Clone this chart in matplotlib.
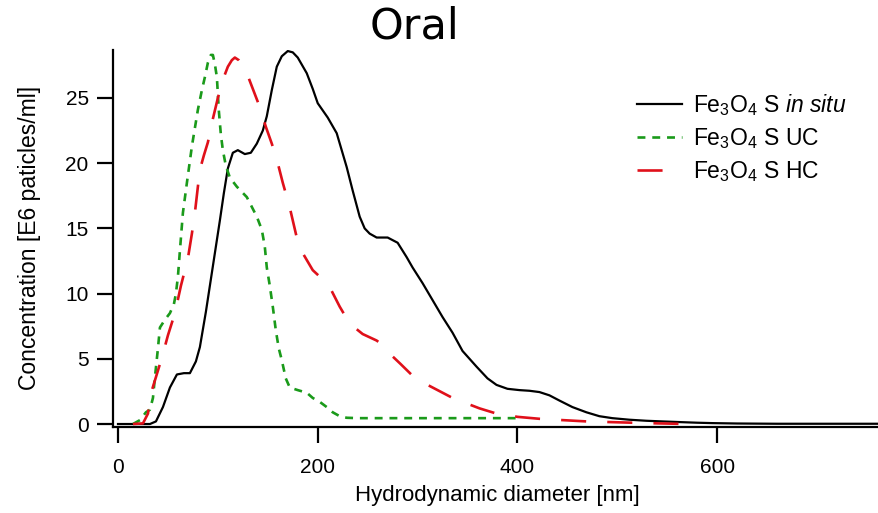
import matplotlib
matplotlib.use("Agg")
import matplotlib.pyplot as plt

plt.rcParams['font.family'] = ['Liberation Sans', 'DejaVu Sans']
plt.rcParams['mathtext.fontset'] = 'custom'
plt.rcParams['mathtext.rm'] = 'Liberation Sans'
plt.rcParams['mathtext.it'] = 'Liberation Sans:italic'

# In situ (black)
insitu_d = [0, 32, 38, 45, 52, 59, 66, 72, 78, 82, 88, 92, 96, 102, 106, 110, 115, 120, 127, 133, 139,
            145, 149, 154, 159, 164, 170, 175, 180, 189, 195, 200, 210, 219, 229, 235, 242, 247, 252, 259,
            270, 280, 289, 295, 305, 315, 325, 335, 345, 359, 370, 379, 390, 402, 412, 422, 432,
            442, 455, 469, 482, 495, 512, 529, 545, 562, 580, 595, 620, 660, 760]
insitu_c = [0, 0, 0.2, 1.3, 2.8, 3.8, 3.9, 3.9, 4.8, 5.9, 8.6, 10.6, 12.6, 15.6, 17.7, 19.6, 20.8, 21.0, 20.7, 20.8, 21.5,
            22.5, 23.6, 25.6, 27.4, 28.2, 28.6, 28.5, 28.1, 26.9, 25.7, 24.6, 23.5, 22.3, 19.7, 17.9, 15.9, 15.0, 14.6, 14.3,
            14.3, 13.9, 12.8, 12.0, 10.8, 9.5, 8.2, 7.0, 5.6, 4.4, 3.5, 3.0, 2.7, 2.6, 2.55, 2.45, 2.2,
            1.8, 1.3, 0.9, 0.6, 0.45, 0.33, 0.25, 0.2, 0.15, 0.1, 0.07, 0.04, 0.02, 0.02]

# UC (green)
uc_d = [15, 22, 28, 32, 35, 37, 40, 42, 47, 52, 56, 58, 60, 62, 65, 69, 74, 80, 84, 87, 90, 93, 95, 97, 99,
        101, 103, 105, 108, 112, 119, 129, 139, 144, 147, 149, 152, 155, 158, 161, 164, 168, 172,
        180, 189, 195, 202, 209, 215, 222, 229, 240, 400]
uc_c = [0, 0.3, 0.9, 1.1, 2.0, 3.6, 5.8, 7.4, 8.0, 8.5, 9.2, 10.0, 11.3, 13.3, 16.2, 18.5, 21.3, 24.1, 25.6, 26.6,
        27.7, 28.3, 28.3, 27.6, 26.6, 24.0, 22.2, 21.0, 19.8, 18.9, 18.2, 17.4, 15.9, 14.9, 13.6, 12.0, 10.6, 9.0,
        7.2, 5.8, 4.9, 3.5, 2.8, 2.6, 2.4, 2.0, 1.7, 1.3, 0.9, 0.6, 0.48, 0.45, 0.45]

# HC (red)
hc_d = [15, 25, 30, 32, 38, 44, 50, 57, 63, 70, 74, 77, 80, 82, 86, 90, 95, 100, 105, 110, 114, 117, 121, 125, 129,
        135, 142, 148, 154, 159, 165, 172, 179, 185, 195, 202, 212, 222, 232, 245, 259, 266, 272, 283, 295, 310, 325,
        335, 345, 362, 379, 400, 422, 445, 469, 492, 515, 540, 572]
hc_c = [0, 0.05, 0.8, 2.1, 3.6, 5.1, 6.8, 8.5, 10.6, 12.7, 14.6, 16.2, 18.2, 19.5, 20.6, 21.6, 23.4, 25.0, 26.4, 27.4,
        27.9, 28.1, 27.9, 27.5, 26.9, 25.7, 24.3, 22.8, 21.5, 20.3, 18.5, 16.6, 14.3, 13.1, 11.8, 11.3, 10.5, 9.0, 7.7,
        6.9, 6.4, 6.0, 5.4, 4.6, 3.7, 3.0, 2.4, 2.0, 1.7, 1.2, 0.8, 0.55, 0.4, 0.3, 0.2, 0.15, 0.1, 0.05, 0.0]

labels = [r"Fe$_3$O$_4$ S $\mathit{in\ situ}$", r"Fe$_3$O$_4$ S UC", r"Fe$_3$O$_4$ S HC"]
xticks = [0, 200, 400, 600]
yticks = [0, 5, 10, 15, 20, 25]

fig = plt.figure(figsize=(8.79, 5.13), dpi=100)
ax = fig.add_axes([113/879, (513-426.5)/513, 1 - 113/879, (426.5-50)/513])

ax.plot(insitu_d, insitu_c, color='black', lw=1.6, label=labels[0])
ax.plot(uc_d, uc_c, color='#1A9A1A', lw=1.9, dashes=(3.0, 2.6), label=labels[1])
ax.plot(hc_d, hc_c, color='#E0101A', lw=1.9, dashes=(9.5, 8.0), label=labels[2])

ax.set_xlim(-5, 762)
ax.set_ylim(-0.19, 28.68)
ax.set_xticks(xticks)
ax.set_yticks(yticks)

for s in ['top', 'right']:
    ax.spines[s].set_visible(False)
for s in ['left', 'bottom']:
    ax.spines[s].set_linewidth(1.6)

ax.tick_params(axis='both', direction='out', length=11.5, width=1.6, labelsize=15)
ax.tick_params(axis='x', pad=11)
ax.tick_params(axis='y', pad=6)

ax.set_xlabel("Hydrodynamic diameter [nm]", fontsize=16)
ax.set_ylabel("Concentration [E6 paticles/ml]", fontsize=16.5)
ax.xaxis.set_label_coords((497 - 113) / 766, (426.5 - 495) / 376.5)
ax.xaxis.label.set_va('center')
ax.yaxis.set_label_coords((30 - 113) / 766, (426.5 - 238) / 376.5)
ax.yaxis.label.set_va('center')

fig.text(415/879, 1 - 27/513, "Oral", fontsize=31, family='DejaVu Sans', ha='center', va='center')

leg = ax.legend(loc='upper left', bbox_to_anchor=(637/879, 1 - 92/513), bbox_transform=fig.transFigure,
                frameon=False, fontsize=16.5, handlelength=1.95, handletextpad=0.5,
                labelspacing=0.36, borderpad=0, borderaxespad=0)

fig.savefig("out.png", dpi=100)
